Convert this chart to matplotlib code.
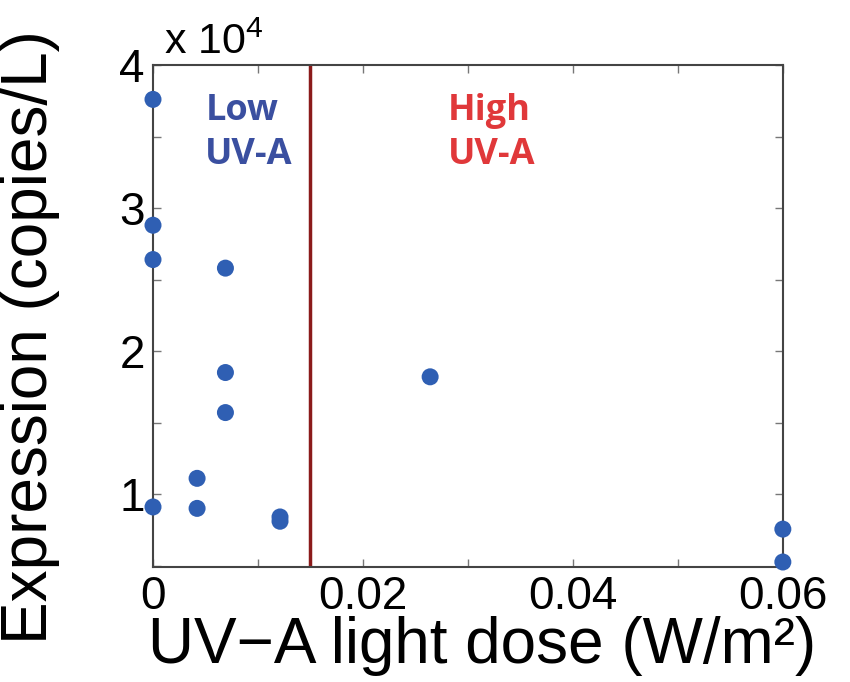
import numpy as np
import matplotlib.pyplot as plt
from matplotlib.ticker import MultipleLocator, FuncFormatter

# UV-A light dose (W/m^2) and expression (copies/L, in units of 1e4)
dose = [0.0, 0.0, 0.0, 0.0, 0.0042, 0.0042, 0.0069, 0.0069, 0.0069,
        0.0121, 0.0121, 0.0264, 0.06, 0.06]
expression = [3.76, 2.88, 2.64, 0.91, 1.11, 0.90, 2.58, 1.85, 1.57,
              0.84, 0.81, 1.82, 0.755, 0.525]
threshold = 0.015

plt.rcParams['font.family'] = ['Liberation Sans', 'DejaVu Sans']
plt.rcParams['mathtext.fontset'] = 'custom'
plt.rcParams['mathtext.rm'] = 'Liberation Sans'
plt.rcParams['mathtext.it'] = 'Liberation Sans'

fig = plt.figure(figsize=(8.5, 6.82), dpi=100)
ax = fig.add_axes([0.18, 0.1686, 0.741, 0.736])

ax.axvline(threshold, color='#8b1a1a', lw=2.5, zorder=1)
ax.scatter(dose, expression, s=150, color='#2f5fb3', zorder=3, clip_on=False,
           edgecolors='none')

ax.set_xlim(0, 0.06)
ax.set_ylim(0.49, 4.0)

ax.xaxis.set_major_locator(MultipleLocator(0.02))
ax.xaxis.set_minor_locator(MultipleLocator(0.01))
ax.yaxis.set_major_locator(MultipleLocator(1))
ax.yaxis.set_minor_locator(MultipleLocator(0.5))
ax.xaxis.set_major_formatter(FuncFormatter(lambda v, p: '0' if v == 0 else f'{v:g}'))
ax.yaxis.set_major_formatter(FuncFormatter(lambda v, p: f'{v:g}'))

for spine in ax.spines.values():
    spine.set_color('#444444')
    spine.set_linewidth(1.5)

ax.tick_params(which='both', direction='in', top=True, right=True,
               length=6, width=1, color='#777777', labelsize=33, pad=6)

ax.set_xlabel('UV\u2212A light dose (W/m\u00b2)', fontsize=46)
ax.xaxis.label.set_va('center')
ax.xaxis.set_label_coords(0.522, -0.158)
ax.set_ylabel('Expression (copies/L)', fontsize=46)
ax.yaxis.label.set_va('center')
ax.yaxis.set_label_coords(-0.195, 0.458)

ax.text(0.018, 1.005, r'x 10$^{\mathrm{4}}$', transform=ax.transAxes, fontsize=31,
        ha='left', va='bottom')

ax.text(0.083, 0.945, 'Low\nUV-A', transform=ax.transAxes, fontsize=26,
        fontweight='bold', color='#3a4fa0', family=['Open Sans', 'DejaVu Sans'],
        ha='left', va='top', linespacing=1.3)
ax.text(0.468, 0.945, 'High\nUV-A', transform=ax.transAxes, fontsize=26,
        fontweight='bold', color='#e0383a', family=['Open Sans', 'DejaVu Sans'],
        ha='left', va='top', linespacing=1.3)

fig.savefig('out.png', dpi=100)
